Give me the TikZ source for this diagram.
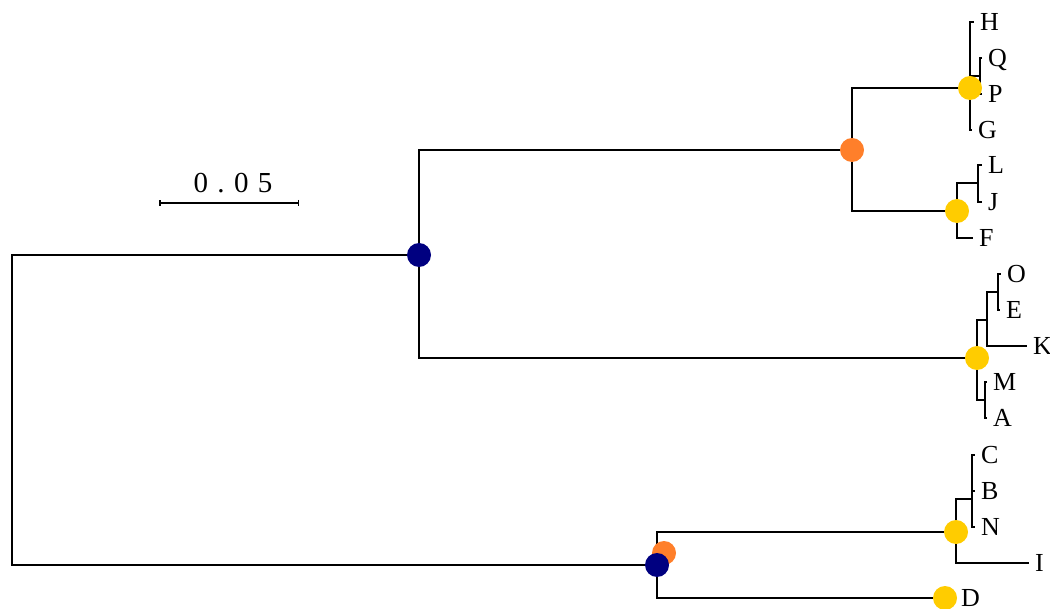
\documentclass[tikz,border=0pt]{standalone}
\usepackage{fontspec}
\setmainfont{Liberation Serif}
\newfontfamily\barfont[LetterSpace=32]{Liberation Serif}
\usepackage{xcolor}
\usepackage{tikz}
\usetikzlibrary{arrows.meta}
\definecolor{hubnavy}{RGB}{0,0,128}
\definecolor{huborange}{RGB}{255,127,42}
\definecolor{hubyellow}{RGB}{255,204,0}

\begin{document}
\begin{tikzpicture}[x=1pt, y=-1pt, line width=2pt,
                    font=\fontsize{26}{30}\selectfont]
\tikzstyle{taxon}=[anchor=west, inner xsep=5pt, inner ysep=0pt,
                    text height=17.2pt, text depth=0pt]
\tikzstyle{branch}=[to path={|- (\tikztotarget)}]
\tikzstyle{hub}=[circle, draw=none, inner sep=0pt, minimum size=24pt]
  \useasboundingbox (0,0) rectangle (1050,609);
  % inner nodes
  \coordinate (root) at (12,410);
  \coordinate (nTop) at (419,255);
  \coordinate (nBot) at (657,565);
  \coordinate (nHF)  at (852,150);
  \coordinate (nHG)  at (970,88);
  \coordinate (nQP)  at (980,76);
  \coordinate (nLF)  at (957,211);
  \coordinate (nLJ)  at (978,183);
  \coordinate (nOA)  at (977,358);
  \coordinate (nOK)  at (987,320);
  \coordinate (nOE)  at (998,292);
  \coordinate (nMA)  at (985,400);
  \coordinate (nCI)  at (956,532);
  \coordinate (nCN)  at (972,499);
  % tips
  \node[taxon] (H) at (974,22)  {H};
  \node[taxon] (Q) at (982,58)  {Q};
  \node[taxon] (P) at (982,94)  {P};
  \node[taxon] (G) at (972,130) {G};
  \node[taxon] (L) at (982,165) {L};
  \node[taxon] (J) at (982,202) {J};
  \node[taxon] (F) at (973,238) {F};
  \node[taxon] (O) at (1001,274) {O};
  \node[taxon] (E) at (1000,310) {E};
  \node[taxon] (K) at (1027,346) {K};
  \node[taxon] (M) at (987,382) {M};
  \node[taxon] (A) at (987,418) {A};
  \node[taxon] (C) at (975,455) {C};
  \node[taxon] (B) at (975,491) {B};
  \node[taxon] (N) at (975,527) {N};
  \node[taxon] (I) at (1029,563) {I};
  \node[taxon] (D) at (955,598) {D};
  % branches
  \path (root) edge[branch] (nTop);
  \path (root) edge[branch] (nBot);
  \path (nTop) edge[branch] (nHF);
  \path (nTop) edge[branch] (nOA);
  \path (nHF)  edge[branch] (nHG);
  \path (nHF)  edge[branch] (nLF);
  \path (nHG)  edge[branch] (H);
  \path (nHG)  edge[branch] (nQP);
  \path (nHG)  edge[branch] (G);
  \path (nQP)  edge[branch] (Q);
  \path (nQP)  edge[branch] (P);
  \path (nLF)  edge[branch] (nLJ);
  \path (nLF)  edge[branch] (F);
  \path (nLJ)  edge[branch] (L);
  \path (nLJ)  edge[branch] (J);
  \path (nOA)  edge[branch] (nOK);
  \path (nOA)  edge[branch] (nMA);
  \path (nOK)  edge[branch] (nOE);
  \path (nOK)  edge[branch] (K);
  \path (nOE)  edge[branch] (O);
  \path (nOE)  edge[branch] (E);
  \path (nMA)  edge[branch] (M);
  \path (nMA)  edge[branch] (A);
  \path (nBot) edge[branch] (nCI);
  \path (nBot) edge[branch] (D);
  \path (nCI)  edge[branch] (nCN);
  \path (nCI)  edge[branch] (I);
  \path (nCN)  edge[branch] (C);
  \path (nCN)  edge[branch] (B);
  \path (nCN)  edge[branch] (N);
  % node marks
  \coordinate (dD)   at (945,598);
  \coordinate (dBot) at (664,553);
  \node[hub, fill=hubnavy]   (mTop) at (nTop) {};
  \node[hub, fill=huborange] (mHF)  at (nHF) {};
  \node[hub, fill=hubyellow] (mHG)  at (nHG) {};
  \node[hub, fill=hubyellow] (mLF)  at (nLF) {};
  \node[hub, fill=hubyellow] (mOA)  at (nOA) {};
  \node[hub, fill=hubyellow] (mCI)  at (nCI) {};
  \node[hub, fill=hubyellow] (mD)   at (dD) {};
  \node[hub, fill=huborange] (mBotO) at (dBot) {};
  \node[hub, fill=hubnavy]   (mBot) at (nBot) {};
  % scale bar
  \coordinate (barL) at (159,203);
  \coordinate (barR) at (299,203);
  \draw[line width=1.5pt, {Bar[width=6pt]}-{Bar[width=6pt]}] (barL) -- (barR);
  \node[font=\barfont\fontsize{29}{32}\selectfont] (barlab) at (233,183) {0.05};
\end{tikzpicture}
\end{document}
